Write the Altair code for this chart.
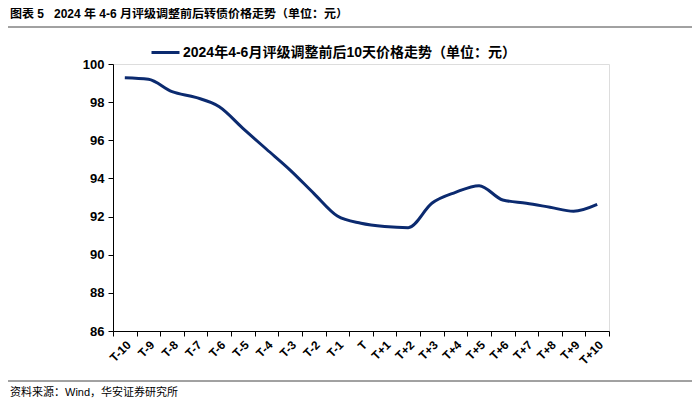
import altair as alt
import pandas as pd

categories = ["T-10", "T-9", "T-8", "T-7", "T-6", "T-5", "T-4", "T-3", "T-2", "T-1", "T",
              "T+1", "T+2", "T+3", "T+4", "T+5", "T+6", "T+7", "T+8", "T+9", "T+10"]
prices = [99.28, 99.2, 98.55, 98.25, 97.76, 96.63, 95.53, 94.44, 93.22, 92.03, 91.65,
          91.48, 91.42, 92.7, 93.27, 93.62, 92.87, 92.7, 92.49, 92.28, 92.64]
series_name = "2024年4-6月评级调整前后10天价格走势（单位：元）"
title_text = "图表 5\u00a0\u00a0\u00a02024 年 4-6 月评级调整前后转债价格走势（单位：元）"
source_text = "资料来源：Wind，华安证券研究所"

df = pd.DataFrame({"day": categories, "price": prices, "series": series_name})

FONT = "Liberation Sans, Noto Sans CJK SC"
W, H = 496, 267

line = alt.Chart(df).mark_line(interpolate="monotone", strokeWidth=3).encode(
    x=alt.X("day:N", sort=categories, title=None,
            scale=alt.Scale(paddingInner=0, paddingOuter=0),
            axis=alt.Axis(labelAngle=-45, labelFont=FONT, labelFontWeight="bold",
                          labelFontSize=12, labelColor="#000", tickBand="extent",
                          domainColor="#000", tickColor="#000", tickSize=5,
                          labelPadding=3)),
    y=alt.Y("price:Q", title=None,
            scale=alt.Scale(domain=[86, 100], nice=False, zero=False),
            axis=alt.Axis(values=list(range(86, 101, 2)), grid=False, labelFont=FONT,
                          labelFontWeight="bold", labelFontSize=13, labelColor="#000",
                          domainColor="#000", tickColor="#000", tickSize=5, labelPadding=4)),
    color=alt.Color("series:N", scale=alt.Scale(range=["#0B2A6F"]),
                    legend=alt.Legend(title=None, orient="none", legendX=37, legendY=-27,
                                      symbolType="stroke", symbolStrokeWidth=3,
                                      symbolSize=784, labelFont=FONT, labelFontSize=14,
                                      labelFontWeight="bold", labelColor="#000",
                                      labelOffset=2, labelLimit=600)),
)

deco = pd.DataFrame({"k": [0]})
title_mark = alt.Chart(deco).mark_text(align="left", baseline="middle", font=FONT,
                                       fontSize=12, fontWeight="bold", color="#000").encode(
    x=alt.value(-103), y=alt.value(-50), text=alt.value(title_text))
title_rule = alt.Chart(deco).mark_rule(color="#444", strokeWidth=1).encode(
    x=alt.value(-105), x2=alt.value(579), y=alt.value(-37))
foot_rule = alt.Chart(deco).mark_rule(color="#444", strokeWidth=1).encode(
    x=alt.value(-105), x2=alt.value(579), y=alt.value(317))
foot_text = alt.Chart(deco).mark_text(align="left", baseline="middle", font=FONT,
                                      fontSize=11, color="#000").encode(
    x=alt.value(-103), y=alt.value(329), text=alt.value(source_text))

chart = alt.layer(line, title_mark, title_rule, foot_rule, foot_text).properties(
    width=W, height=H,
    autosize=alt.AutoSizeParams(type="none"),
    padding={"left": 105, "top": 56, "right": 83, "bottom": 70},
).configure_view(stroke=None).configure(background="white")

chart.save("out.html", embed_options={"renderer": "svg", "actions": False})
